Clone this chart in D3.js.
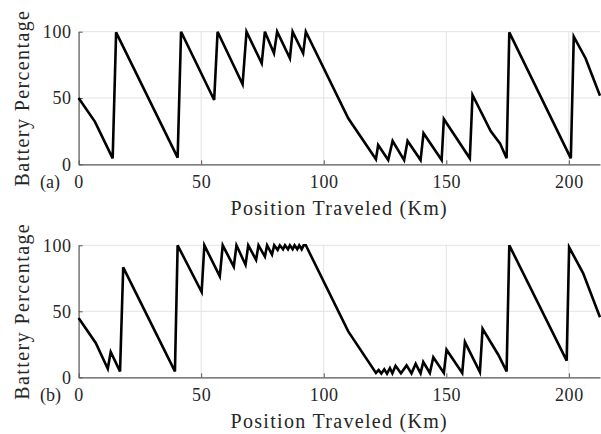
<!DOCTYPE html>
<html>
<head>
<meta charset="utf-8">
<script src="https://cdn.jsdelivr.net/npm/d3@7"></script>
<style>
  body { margin: 0; background: #fff; }
  svg { display: block; }
</style>
</head>
<body>
<svg id="chart"></svg>
<script>
// (a) position (km) and battery (%) at each vertex of the trace
const posA = [0, 6.7, 13.9, 15.3, 40.4, 41.8, 55.3, 56.7, 66.9, 68.5, 74.7, 76, 79.7, 81, 86.2, 87.3, 91.6, 92.7,
  110, 121.3, 122.2, 126.3, 128.1, 132.8, 134.2, 139.5, 140.7, 148.1, 149, 159.6, 160.7, 168.1, 171.9, 174.6,
  175.7, 200.8, 202, 206.8, 212.7];
const battA = [50, 32, 4.5, 99.5, 5, 100, 48.5, 100, 60.3, 100, 76.2, 100, 83.7, 100, 80, 100, 83.7, 100,
  34.7, 3.8, 14.6, 3.2, 17.6, 3.2, 17.6, 3.2, 23.4, 3.2, 34.2, 4.5, 52.3, 25.1, 15.8, 4.5,
  99.5, 4.5, 96.2, 80, 51.7];

// (b)
const posB = [0, 7, 11.9, 13.1, 16.9, 18.2, 39.3, 40.4, 50.2, 51.3, 57.6, 58.8, 63.3, 64.4, 68.1, 69.2, 72.4, 73.4,
  76, 76.9, 78.9, 79.8, 81.2, 82.1, 83.4, 84.2, 85.4, 86.2, 87.3, 88.1, 89.2, 90, 91, 91.8, 92.7,
  110, 121.3, 122.4, 123.5, 124.7, 125.8, 127, 128, 129.3, 131.5, 133.8, 135.8, 137.5, 139.5, 140.6, 143.3,
  144.7, 149, 150.1, 156.5, 157.6, 163.7, 164.8, 171.2, 174.6, 175.7, 199.1, 200.1, 205.8, 212.7];
const battB = [45, 26, 6.5, 19.2, 4.5, 83.3, 4.5, 100, 64.6, 100, 76.5, 100, 83.8, 100, 85.3, 100, 89, 100,
  91.5, 100, 93, 100, 96.5, 100, 97, 100, 97, 100, 97, 100, 97, 100, 97, 100, 100,
  34.8, 3.3, 5.5, 2.8, 6, 2.8, 7, 3, 8.7, 3, 9, 3, 10.2, 3, 11.6, 3.3,
  15.2, 3.3, 20.9, 3.3, 26.7, 4, 36.8, 17.1, 4.5, 100, 12.6, 98.5, 79, 45.5];

const xTicks = [0, 50, 100, 150, 200];
const yTicks = [0, 50, 100];
const xDomain = [0, 212.7];
const yDomain = [0, 100];

const W = 601, H = 434;
const serif = "Liberation Serif, DejaVu Serif, Noto Serif, serif";
const ink = "#262626";

const svg = d3.select("#chart").attr("width", W).attr("height", H);

const panels = [
  { pos: posA, batt: battA, tag: "(a)", top: 31.7, bottom: 164.3 },
  { pos: posB, batt: battB, tag: "(b)", top: 245.3, bottom: 377.3 }
];

const left = 78.6, right = 600;

panels.forEach(p => {
  const x = d3.scaleLinear().domain(xDomain).range([left, right]);
  const y = d3.scaleLinear().domain(yDomain).range([p.bottom, p.top]);
  const g = svg.append("g");

  // grid
  g.selectAll(".gx").data(xTicks.filter(d => d > 0)).join("line")
    .attr("x1", d => x(d)).attr("x2", d => x(d))
    .attr("y1", p.top).attr("y2", p.bottom)
    .attr("stroke", "#e3e3e3").attr("stroke-width", 1);
  g.selectAll(".gy").data(yTicks.filter(d => d > 0)).join("line")
    .attr("x1", left).attr("x2", right)
    .attr("y1", d => y(d)).attr("y2", d => y(d))
    .attr("stroke", "#e3e3e3").attr("stroke-width", 1);

  // axes
  const xAxis = g.append("g")
    .attr("transform", `translate(0,${p.bottom})`)
    .call(d3.axisBottom(x).tickValues(xTicks).tickSize(-4).tickSizeOuter(0).tickPadding(11));
  const yAxis = g.append("g")
    .attr("transform", `translate(${left},0)`)
    .call(d3.axisLeft(y).tickValues(yTicks).tickSize(-4).tickSizeOuter(0).tickPadding(7));

  [xAxis, yAxis].forEach(a => {
    a.attr("font-family", serif);
    a.select(".domain").attr("stroke", "#555").attr("stroke-width", 1.2);
    a.selectAll(".tick line").attr("stroke", "#555");
    a.selectAll(".tick text")
      .attr("fill", ink)
      .attr("font-family", serif)
      .attr("font-size", 18)
      .attr("letter-spacing", 0.6);
  });

  // trace
  const line = d3.line().x(d => x(d[0])).y(d => y(d[1]));
  g.append("path")
    .datum(d3.zip(p.pos, p.batt))
    .attr("d", line)
    .attr("fill", "none")
    .attr("stroke", "#000")
    .attr("stroke-width", 2.6)
    .attr("stroke-linejoin", "miter")
    .attr("stroke-miterlimit", 4);

  // labels
  g.append("text")
    .attr("x", 40).attr("y", p.bottom + 24)
    .attr("fill", ink)
    .attr("font-family", serif).attr("font-size", 18)
    .text(p.tag);

  g.append("text")
    .attr("text-anchor", "middle")
    .attr("x", (left + right) / 2).attr("y", p.bottom + 51)
    .attr("fill", ink)
    .attr("font-family", serif).attr("font-size", 20)
    .attr("letter-spacing", 1.3)
    .text("Position Traveled (Km)");

  g.append("text")
    .attr("text-anchor", "middle")
    .attr("transform", `translate(29,${(p.top + p.bottom) / 2}) rotate(-90)`)
    .attr("fill", ink)
    .attr("font-family", serif).attr("font-size", 20)
    .attr("letter-spacing", 1.4)
    .text("Battery Percentage");
});
</script>
</body>
</html>
